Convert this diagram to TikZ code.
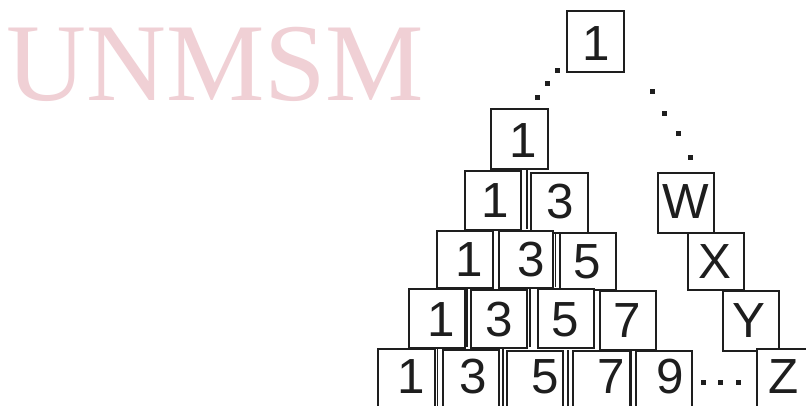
\documentclass[tikz,border=0pt]{standalone}
\usepackage{fontspec}
\setmainfont{Liberation Sans}
\newfontfamily\wmfont{Liberation Serif}
\definecolor{wmpink}{RGB}{240,208,213}
\definecolor{ink}{RGB}{30,30,30}
\newcommand\card[8]{%
  \node[cardshape, minimum width={(#4-#2)*0.75pt}, minimum height={(#5-#3)*0.75pt}, anchor=north west] (#1) at (#2,#3) {};
  \node[cardtext] (#1t) at (#6,#7) {#8};}
\newcommand\dotsq[2]{\fill[ink] (#1-2.5,#2-2.5) rectangle (#1+2.5,#2+2.5);}
\begin{document}
\begin{tikzpicture}[x=0.75pt,y=-0.75pt,
  cardshape/.style={draw=ink, line width=1.5pt, rectangle, inner sep=0pt, fill=white},
  cardtext/.style={anchor=base, inner sep=0pt, text=ink, font=\fontsize{37}{40}\selectfont},
  gapline/.style={draw=ink, line width=1.2pt}]
\clip (0,0) rectangle (806,405);
\fill[white] (0,0) rectangle (806,405);
\node[anchor=base west, inner sep=0pt, text=wmpink, font=\wmfont\fontsize{83}{90}\selectfont] (wm) at (6,100) {UNMSM};
% top
\card{top}{566}{10}{623}{71}{596.5}{60}{1}
% row 2
\card{ra}{490}{108}{547}{168}{523.5}{157}{1}
% row 3
\card{rba}{464}{170}{520}{229}{495.5}{217}{1}
\card{rbb}{530}{172}{587}{232}{560}{218}{3}
\card{w}{657}{172}{713}{232}{686}{218}{W}
% row 4
\card{rca}{436}{230}{492}{287}{469.5}{276}{1}
\card{rcb}{498}{230}{552}{287}{531}{276}{3}
\card{rcc}{559}{232}{615}{289}{587}{278}{5}
\card{x}{687}{232}{743}{289}{715}{278}{X}
% row 5
\card{rda}{408}{288}{464}{347}{441.5}{336}{1}
\card{rdb}{470}{289}{526}{347}{499.5}{336}{3}
\card{rdc}{537}{288}{593}{347}{565}{336}{5}
\card{rdd}{599}{290}{655}{349}{627.5}{337}{7}
\card{y}{722}{290}{778}{350}{749}{337}{Y}
% row 6
\card{rea}{377}{348}{434}{430}{411.5}{393}{1}
\card{reb}{442}{349}{498}{430}{473.5}{393}{3}
\card{rec}{506}{350}{562}{430}{545}{393}{5}
\card{red}{572}{350}{629}{430}{611}{393}{7}
\card{ree}{635}{350}{691}{430}{670}{393}{9}
\card{z}{756}{348}{840}{430}{784}{393}{Z}
% gap lines
\draw[gapline] (527,170) -- (527,229);
\draw[gapline] (555.5,232) -- (555.5,287);
\draw[gapline] (467,289) -- (467,347);
\draw[gapline] (530,289) -- (530,347);
\draw[gapline] (437.5,348) -- (437.5,410);
\draw[gapline] (503,349) -- (503,410);
\draw[gapline] (568,350) -- (568,410);
\draw[gapline] (631.5,350) -- (631.5,410);
% dotted diagonals
\dotsq{557}{70}\dotsq{547}{83}\dotsq{537}{97}
\dotsq{652}{91}\dotsq{664}{113}\dotsq{678}{133}\dotsq{690}{157}
% bottom dots
\dotsq{703}{382}\dotsq{720}{382}\dotsq{738}{382}
\end{tikzpicture}
\end{document}
